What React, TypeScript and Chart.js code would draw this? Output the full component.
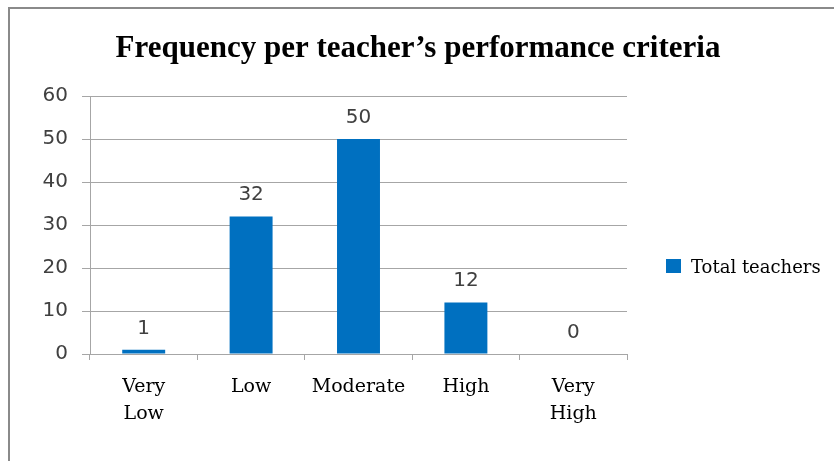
import React, { useEffect, useRef } from "react";
import { Chart, registerables } from "chart.js";

Chart.register(...registerables);

const categories: (string | string[])[] = [["Very", "Low"], "Low", "Moderate", "High", ["Very", "High"]];
const totalTeachers = [1, 32, 50, 12, 0];
const yMin = 0;
const yMax = 60;
const yStep = 10;
const titleText = "Frequency per teacher\u2019s performance criteria";
const seriesLabel = "Total teachers";

const BAR_COLOR = "#0070C0";
const GRID_COLOR = "#a6a6a6";
const SANS = "'DejaVu Sans', sans-serif";
const SERIF = "'DejaVu Serif', serif";
const TITLE_FONT = "'Liberation Serif', serif";

const decorPlugin = {
  id: "decor",
  afterDatasetsDraw(chart: any) {
    const ctx = chart.ctx;
    const meta = chart.getDatasetMeta(0);
    ctx.save();
    ctx.font = `20px ${SANS}`;
    ctx.fillStyle = "#404040";
    ctx.textAlign = "center";
    ctx.textBaseline = "alphabetic";
    meta.data.forEach((bar: any, i: number) => {
      ctx.fillText(String(totalTeachers[i]), bar.x, bar.y - 16);
    });
    ctx.restore();
  },
  afterDraw(chart: any) {
    const ctx = chart.ctx;
    ctx.save();
    // title
    let size = 34;
    ctx.font = `bold ${size}px ${TITLE_FONT}`;
    while (size > 16 && ctx.measureText(titleText).width > 612) {
      size -= 0.5;
      ctx.font = `bold ${size}px ${TITLE_FONT}`;
    }
    ctx.fillStyle = "#000";
    ctx.textAlign = "center";
    ctx.textBaseline = "alphabetic";
    ctx.fillText(titleText, 408, 48);
    // legend
    ctx.fillStyle = BAR_COLOR;
    ctx.fillRect(656, 250, 15, 14);
    ctx.fillStyle = "#000";
    ctx.textAlign = "left";
    ctx.font = `18px ${SERIF}`;
    ctx.fillText(seriesLabel, 681, 264);
    ctx.restore();
  },
};

export default function App() {
  const ref = useRef<HTMLCanvasElement | null>(null);
  useEffect(() => {
    if (!ref.current) return;
    const chart = new Chart(ref.current, {
      type: "bar",
      data: {
        labels: categories,
        datasets: [
          {
            label: seriesLabel,
            data: totalTeachers,
            backgroundColor: BAR_COLOR,
            barPercentage: 0.4,
            categoryPercentage: 1,
          },
        ],
      },
      options: {
        animation: false,
        responsive: false,
        maintainAspectRatio: false,
        layout: { padding: { top: 87, right: 207, left: 0, bottom: 0 } },
        plugins: {
          legend: { display: false },
          title: { display: false },
          tooltip: { enabled: false },
        },
        scales: {
          x: {
            offset: true,
            grid: {
              offset: true,
              drawOnChartArea: false,
              drawTicks: true,
              tickLength: 6,
              color: GRID_COLOR,
            },
            border: { display: true, color: GRID_COLOR },
            ticks: {
              color: "#000",
              font: { family: SERIF, size: 19, lineHeight: 1.4 },
              padding: 14,
              maxRotation: 0,
              autoSkip: false,
            },
            afterFit(scale: any) {
              scale.height = 107;
            },
          },
          y: {
            min: yMin,
            max: yMax,
            ticks: {
              stepSize: yStep,
              color: "#404040",
              font: { family: SANS, size: 20 },
              padding: 14,
            },
            grid: { color: GRID_COLOR, tickLength: 8 },
            border: { display: true, color: GRID_COLOR },
            afterFit(scale: any) {
              scale.width = 80;
            },
          },
        },
      },
      plugins: [decorPlugin],
    });
    return () => chart.destroy();
  }, []);
  return (
    <div
      style={{
        position: "fixed",
        left: 8,
        top: 7,
        width: 826,
        height: 460,
        borderTop: "2px solid #8a8a8a",
        borderLeft: "2px solid #8a8a8a",
        background: "#fff",
      }}
    >
      <canvas ref={ref} width={824} height={452} style={{ display: "block" }} />
    </div>
  );
}
